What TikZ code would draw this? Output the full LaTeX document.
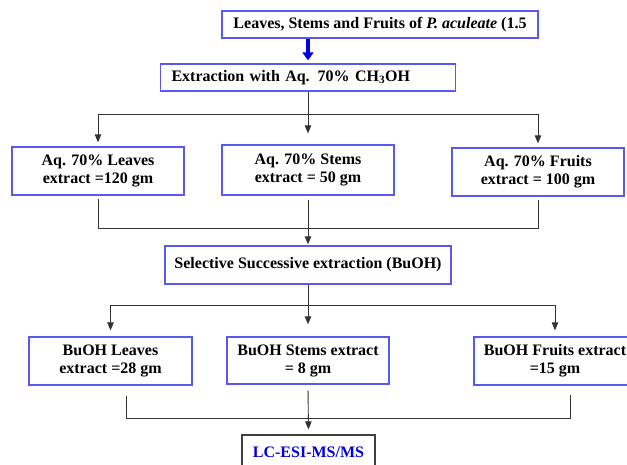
\documentclass[tikz,border=0pt]{standalone}
\usepackage{fontspec}
\setmainfont{Liberation Serif}
\usetikzlibrary{arrows.meta}
\definecolor{boxblue}{RGB}{88,88,245}
\definecolor{flowblue}{RGB}{0,0,225}

\begin{document}
\begin{tikzpicture}[x=1pt,y=-1pt,
  box/.style={draw=boxblue,line width=1.3pt,fill=white,align=center,inner sep=0pt,
    font=\bfseries\fontsize{16}{18}\selectfont},
  link/.style={draw=black!80,line width=0.9pt},
  tip/.style={link,-{Triangle[width=6.5pt,length=8pt]}},
  bigtip/.style={draw=flowblue,line width=4.5pt,-{Triangle[width=11pt,length=8pt]}}]
\useasboundingbox (0,0) rectangle (627,465);

% boxes
\node[box,minimum width=316pt,minimum height=27pt] (src) at (380,24.5) {Leaves, Stems and Fruits of \textit{P. aculeate} (1.5};
\node[box,text width=273pt,align=left,inner xsep=11pt,minimum height=27pt] (meoh) at (308,77.5) {Extraction with Aq. 70\% CH\textsubscript{3}OH};

\node[box,minimum width=172pt,minimum height=48pt] (aqL) at (98,171) {Aq. 70\% Leaves\\extract =120 gm};
\node[box,minimum width=172pt,minimum height=50pt] (aqS) at (308,170) {Aq. 70\% Stems\\extract = 50 gm};
\node[box,minimum width=172pt,minimum height=48pt] (aqF) at (538,172) {Aq. 70\% Fruits\\extract = 100 gm};

\node[box,minimum width=286pt,minimum height=38pt] (buoh) at (308,265) {Selective Successive extraction (BuOH)};

\node[box,minimum width=163pt,minimum height=48pt] (buL) at (110.5,361) {BuOH Leaves\\extract =28 gm};
\node[box,minimum width=162pt,minimum height=47pt] (buS) at (308,360.5) {BuOH Stems extract\\= 8 gm};
\node[box,minimum width=162pt,minimum height=48pt] (buF) at (555,361) {BuOH Fruits extract\\=15 gm};

\node[box,draw=black!75,text=flowblue,minimum width=133pt,minimum height=34pt] (lc) at (308.5,452) {LC-ESI-MS/MS};

% connectors
\draw[bigtip,shorten >=3pt] (src.south -| meoh.north) -- (meoh.north);

\path (meoh.south) ++(0,23) coordinate (j1);
\draw[link] (meoh.south) -- (j1);
\foreach \b in {aqL,aqF}{
  \draw[tip,shorten >=4pt] (j1) -| (\b.north);
}
\draw[tip,shorten >=11pt] (j1) -- (aqS.north);

\path (aqS.south) ++(0,33) coordinate (j2);
\draw[link,shorten <=3pt] (aqL.south) |- (j2);
\draw[link,shorten <=3pt] (aqF.south) |- (j2);
\draw[tip,shorten <=4pt,shorten >=1pt] (aqS.south) -- (buoh.north);

\path (buoh.south) ++(0,21) coordinate (j3);
\draw[link] (buoh.south) -- (j3);
\foreach \b in {buL,buF}{
  \draw[tip,shorten >=6pt] (j3) -| (\b.north);
}
\draw[tip,shorten >=12pt] (j3) -- (buS.north);

\path (buS.south) ++(0,34) coordinate (j4);
\draw[link,shorten <=10pt] ([xshift=16pt]buL.south) |- (j4);
\draw[link,shorten <=9pt] ([xshift=15pt]buF.south) |- (j4);
\draw[tip,shorten <=6pt,shorten >=5pt] (buS.south) -- (lc.north);
\end{tikzpicture}
\end{document}
